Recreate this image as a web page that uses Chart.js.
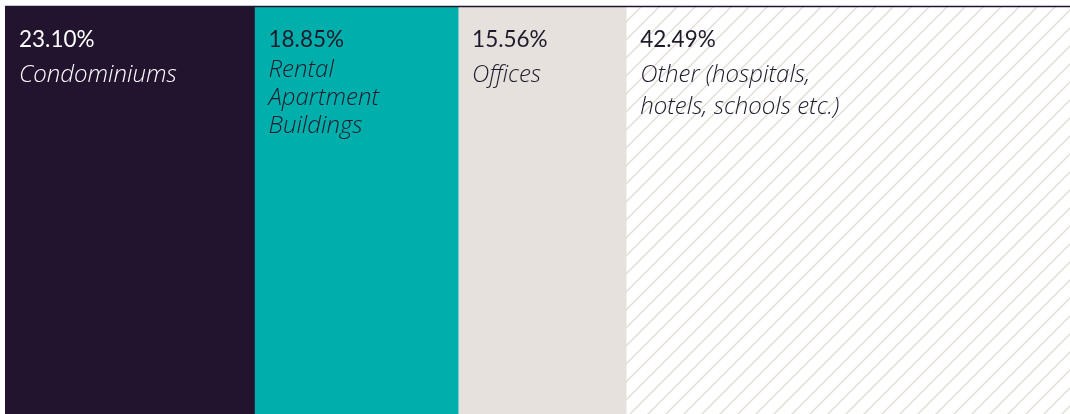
<!DOCTYPE html>
<html>
<head>
<meta charset="utf-8">
<script src="https://cdn.jsdelivr.net/npm/chart.js@4.4.0/dist/chart.umd.min.js"></script>
<style>
  html, body { margin: 0; padding: 0; background: #ffffff; }
  #wrap { width: 1070px; height: 414px; }
</style>
</head>
<body>
<div id="wrap"><canvas id="shareChart" width="1070" height="414"></canvas></div>
<script>
// building types and their share of the total
const categories = ['Condominiums', 'Rental Apartment Buildings', 'Offices', 'Other (hospitals, hotels, schools etc.)'];
const shares = [23.10, 18.85, 15.56, 42.49];
const labelLines = [
  ['Condominiums'],
  ['Rental', 'Apartment', 'Buildings'],
  ['Offices'],
  ['Other (hospitals,', 'hotels, schools etc.)']
];
const colors = ['#22142f', '#00afab', '#e6e1dc', null];
const textColors = ['#ffffff', '#1e1a2c', '#1e1a2c', '#1e1a2c'];
// label placement (first baseline below bar top, line spacing)
const firstLine = [75, 70, 75, 75];
const lineGap = [28, 28, 28, 31.5];

// diagonal hatch for the "other" segment
function hatchPattern() {
  const c = document.createElement('canvas');
  const s = 18;
  c.width = s; c.height = s;
  const g = c.getContext('2d');
  g.fillStyle = '#ffffff';
  g.fillRect(0, 0, s, s);
  g.strokeStyle = '#e3dfd7';
  g.lineWidth = 1.5;
  g.beginPath();
  g.moveTo(-2, s + 2); g.lineTo(s + 2, -2);
  g.moveTo(-2, 2); g.lineTo(2, -2);
  g.moveTo(s - 2, s + 2); g.lineTo(s + 2, s - 2);
  g.stroke();
  return g.createPattern(c, 'repeat');
}

const segmentLabels = {
  id: 'segmentLabels',
  afterDatasetsDraw(chart) {
    const ctx = chart.ctx;
    const top = chart.chartArea.top;
    ctx.save();
    // dark rule along the top
    ctx.strokeStyle = '#22142f';
    ctx.lineWidth = 1.5;
    ctx.beginPath();
    ctx.moveTo(chart.chartArea.left, top - 0.5);
    ctx.lineTo(chart.width, top - 0.5);
    ctx.stroke();
    ctx.textBaseline = 'alphabetic';
    ctx.textAlign = 'left';
    chart.data.datasets.forEach((ds, i) => {
      const bar = chart.getDatasetMeta(i).data[0];
      const x = Math.min(bar.x, bar.base) + 14;
      ctx.fillStyle = textColors[i];
      ctx.font = '400 22.5px Lato';
      ctx.fillText(shares[i].toFixed(2) + '%', x, top + 39.5);
      ctx.font = 'italic 300 24px "Open Sans"';
      labelLines[i].forEach((line, j) => {
        ctx.fillText(line, x, top + firstLine[i] + j * lineGap[i]);
      });
    });
    ctx.restore();
  }
};

const ctx = document.getElementById('shareChart').getContext('2d');
new Chart(ctx, {
  type: 'bar',
  data: {
    labels: ['Share'],
    datasets: categories.map((name, i) => ({
      label: name,
      data: [shares[i]],
      backgroundColor: colors[i] || hatchPattern(),
      borderWidth: 0,
      barPercentage: 1,
      categoryPercentage: 1
    }))
  },
  options: {
    indexAxis: 'y',
    responsive: false,
    animation: false,
    layout: { padding: { left: 5, top: 7, right: 0, bottom: 0 } },
    plugins: { legend: { display: false }, tooltip: { enabled: false } },
    scales: {
      x: { stacked: true, min: 0, max: 98.6, display: false },
      y: { stacked: true, display: false }
    }
  },
  plugins: [segmentLabels]
});
</script>
</body>
</html>
